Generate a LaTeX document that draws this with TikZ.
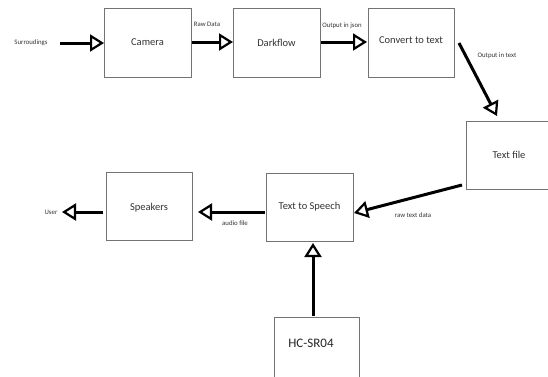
\documentclass[tikz,border=0pt]{standalone}
\usepackage{fontspec}
\setmainfont{Carlito}
\usetikzlibrary{arrows.meta}
\begin{document}
\begin{tikzpicture}[x=1pt,y=-1pt,
  blk/.style={draw=black!55,line width=0.8pt,fill=white},
  flow/.style={line width=3pt,-{Triangle[open,length=14pt,width=17pt,line width=2.2pt,fill=white]}},
  lbl/.style={font=\fontsize{6.8}{8}\selectfont,text=black!80,inner sep=0pt},
  big/.style={font=\fontsize{10.5}{12}\selectfont,text=black!80}]
\useasboundingbox (0,0) rectangle (548,376);
\draw[blk] (104,8) rectangle (191,77);
\node[big] (camera) at (147.5,42.5) {Camera};
\draw[blk] (233,8) rectangle (320,77);
\node[big] (dark) at (276.5,42.5) {Darkflow};
\draw[blk] (368,8) rectangle (454,77);
\node[big] (conv) at (411,40) {Convert to text};
\draw[blk] (466,121) rectangle (550,189);
\node[big] (tfile) at (509,155) {Text file};
\draw[blk] (106,172) rectangle (192,240);
\node[big] (spk) at (149,208) {Speakers};
\draw[blk] (266,173) rectangle (353,241);
\node[big] (tts) at (309.5,207) {Text to Speech};
\draw[blk] (274,317) rectangle (359,380);
\node[font=\fontsize{13}{15}\selectfont,text=black!85] (hc) at (311,343) {HC-SR04};

\node[lbl] (surr) at (31,43) {Surroudings};
\node[lbl] (user) at (51,212) {User};
\node[lbl] at (207,24) {Raw Data};
\node[lbl] at (342,26) {Output in json};
\node[lbl] at (497,56) {Output in text};
\node[lbl] at (413,215) {raw text data};
\node[lbl] at (235,223) {audio file};

\draw[flow] (60,43) -- (104,43);
\draw[flow] (192,42) -- (233,42);
\draw[flow] (321,42) -- (367,42);
\draw[flow] (459,43) -- (497,116);
\draw[flow] (462,185) -- (354,213);
\draw[flow] (265,212) -- (198,212);
\draw[flow] (103,212) -- (62,212);
\draw[flow] (313,316) -- (313,243);
\end{tikzpicture}
\end{document}
